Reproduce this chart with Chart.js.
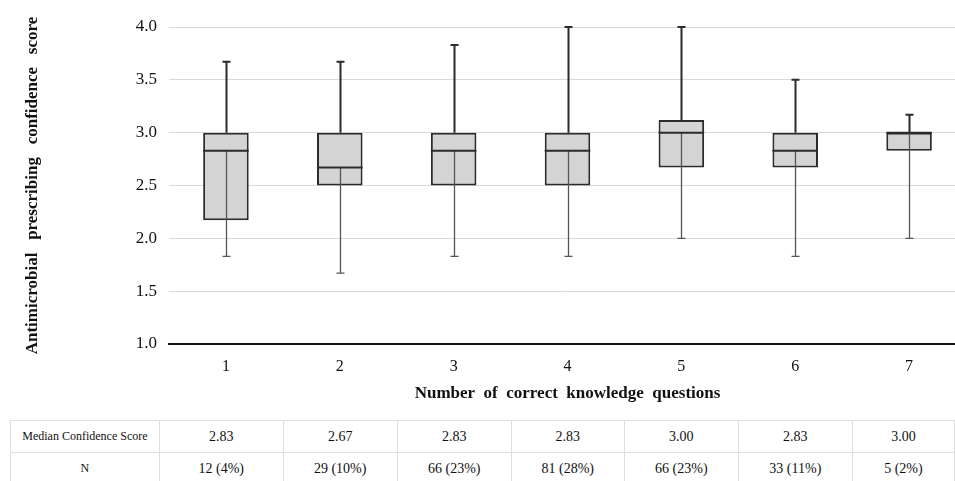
<!DOCTYPE html>
<html>
<head>
<meta charset="utf-8">
<script src="https://cdn.jsdelivr.net/npm/chart.js@4.4.0/dist/chart.umd.min.js"></script>
<style>
    html, body { margin: 0; padding: 0; background: #fff; }
    #wrap { position: relative; width: 955px; height: 481px; overflow: hidden; }
    #chartBox { position: absolute; left: 0; top: 0; width: 966px; height: 410px; }
    #statsTable {
        position: absolute; top: 420px; left: 10px;
        border-collapse: collapse; table-layout: fixed;
        font-family: "Liberation Serif", "Times New Roman", serif; color: #111;
    }
    #statsTable td {
        border: 1px solid #dedede; text-align: center; height: 31px; padding: 0;
        font-size: 14px;
    }
    #statsTable td.rowLabel { font-size: 12px; }
</style>
</head>
<body>
<div id="wrap">
    <div id="chartBox"><canvas id="boxChart"></canvas></div>
    <table id="statsTable"><tbody></tbody></table>
</div>
<script>
// Number of correct knowledge questions
const categories = ['1', '2', '3', '4', '5', '6', '7'];
// box plot values
const minVals    = [1.83, 1.67, 1.83, 1.83, 2.00, 1.83, 2.00];
const q1Vals     = [2.17, 2.50, 2.50, 2.50, 2.67, 2.67, 2.83];
const medianVals = [2.83, 2.67, 2.83, 2.83, 3.00, 2.83, 3.00];
const q3Vals     = [3.00, 3.00, 3.00, 3.00, 3.12, 3.00, 3.00];
const maxVals    = [3.67, 3.67, 3.83, 4.00, 4.00, 3.50, 3.17];
// table under the chart
const medianLabels = ['2.83', '2.67', '2.83', '2.83', '3.00', '2.83', '3.00'];
const nLabels = ['12 (4%)', '29 (10%)', '66 (23%)', '81 (28%)', '66 (23%)', '33 (11%)', '5 (2%)'];

const SERIF = '"Liberation Serif", "Times New Roman", serif';

// whiskers + median line, drawn on top of the boxes
const whiskerPlugin = {
    id: 'whiskers',
    afterDatasetsDraw(chart) {
        const ctx = chart.ctx;
        const y = chart.scales.y;
        const meta = chart.getDatasetMeta(0);
        ctx.save();
        meta.data.forEach((bar, i) => {
            const x = Math.round(bar.x) + 0.5;
            const half = bar.width / 2;
            const cap = 4;
            const yMax = y.getPixelForValue(maxVals[i]);
            const yQ3 = y.getPixelForValue(q3Vals[i]);
            const yMed = y.getPixelForValue(medianVals[i]);
            const yMin = y.getPixelForValue(minVals[i]);

            // upper whisker
            ctx.strokeStyle = '#2b2b2b';
            ctx.lineWidth = 2;
            ctx.beginPath();
            ctx.moveTo(x, yQ3); ctx.lineTo(x, yMax);
            ctx.moveTo(x - cap, yMax); ctx.lineTo(x + cap, yMax);
            ctx.stroke();

            // lower whisker (runs from the median down)
            ctx.strokeStyle = '#555';
            ctx.lineWidth = 1.3;
            ctx.beginPath();
            ctx.moveTo(x, yMed); ctx.lineTo(x, yMin);
            ctx.moveTo(x - cap, yMin); ctx.lineTo(x + cap, yMin);
            ctx.stroke();

            // median
            ctx.strokeStyle = '#2b2b2b';
            ctx.lineWidth = 2;
            ctx.beginPath();
            ctx.moveTo(bar.x - half, yMed); ctx.lineTo(bar.x + half, yMed);
            ctx.stroke();
        });
        ctx.restore();
    }
};

const chart = new Chart(document.getElementById('boxChart'), {
    type: 'bar',
    data: {
        labels: categories,
        datasets: [{
            data: categories.map((c, i) => [q1Vals[i], q3Vals[i]]),
            backgroundColor: '#d4d4d4',
            borderColor: '#2b2b2b',
            borderWidth: 2,
            borderSkipped: false,
            barPercentage: 0.4,
            categoryPercentage: 1.0
        }]
    },
    options: {
        responsive: true,
        maintainAspectRatio: false,
        animation: false,
        layout: { padding: { top: 27, right: 0, bottom: 6, left: 0 } },
        plugins: {
            legend: { display: false },
            tooltip: { enabled: false }
        },
        scales: {
            x: {
                grid: { display: false, drawTicks: false },
                border: { display: true, color: '#111', width: 2 },
                ticks: { color: '#111', font: { family: SERIF, size: 16 }, padding: 13 },
                title: {
                    display: true,
                    text: 'Number  of  correct  knowledge  questions',
                    color: '#111',
                    font: { family: SERIF, size: 17, weight: 'bold' },
                    padding: { top: 4, bottom: 0 }
                },
                afterFit: (s) => { s.height = 60; }
            },
            y: {
                min: 1.0,
                max: 4.0,
                ticks: {
                    stepSize: 0.5,
                    color: '#111',
                    padding: 12,
                    font: { family: SERIF, size: 17 },
                    callback: (v) => v.toFixed(1)
                },
                grid: { color: '#d9d9d9', lineWidth: 1, drawTicks: false },
                border: { display: false },
                title: {
                    display: true,
                    text: 'Antimicrobial   prescribing   confidence   score',
                    color: '#111',
                    font: { family: SERIF, size: 17, weight: 'bold' },
                    padding: { top: 22, bottom: 0 }
                },
                afterFit: (s) => { s.width = 169; }
            }
        }
    },
    plugins: [whiskerPlugin]
});

// table columns follow the category positions of the x scale
function buildTable() {
    const xs = chart.scales.x;
    const tbody = document.querySelector('#statsTable tbody');
    const tableLeft = 10;
    const firstRight = 159;
    const edges = [firstRight];
    for (let i = 0; i < categories.length - 1; i++) {
        edges.push(Math.round((xs.getPixelForValue(i) + xs.getPixelForValue(i + 1)) / 2));
    }
    edges.push(955 - 1);
    const widths = [firstRight - tableLeft];
    for (let i = 0; i < categories.length; i++) widths.push(edges[i + 1] - edges[i]);

    const rows = [['Median Confidence Score'].concat(medianLabels), ['N'].concat(nLabels)];
    rows.forEach(r => {
        const tr = document.createElement('tr');
        r.forEach((txt, j) => {
            const td = document.createElement('td');
            td.textContent = txt;
            td.style.width = widths[j] + 'px';
            if (j === 0) td.className = 'rowLabel';
            tr.appendChild(td);
        });
        tbody.appendChild(tr);
    });
}
buildTable();
</script>
</body>
</html>
